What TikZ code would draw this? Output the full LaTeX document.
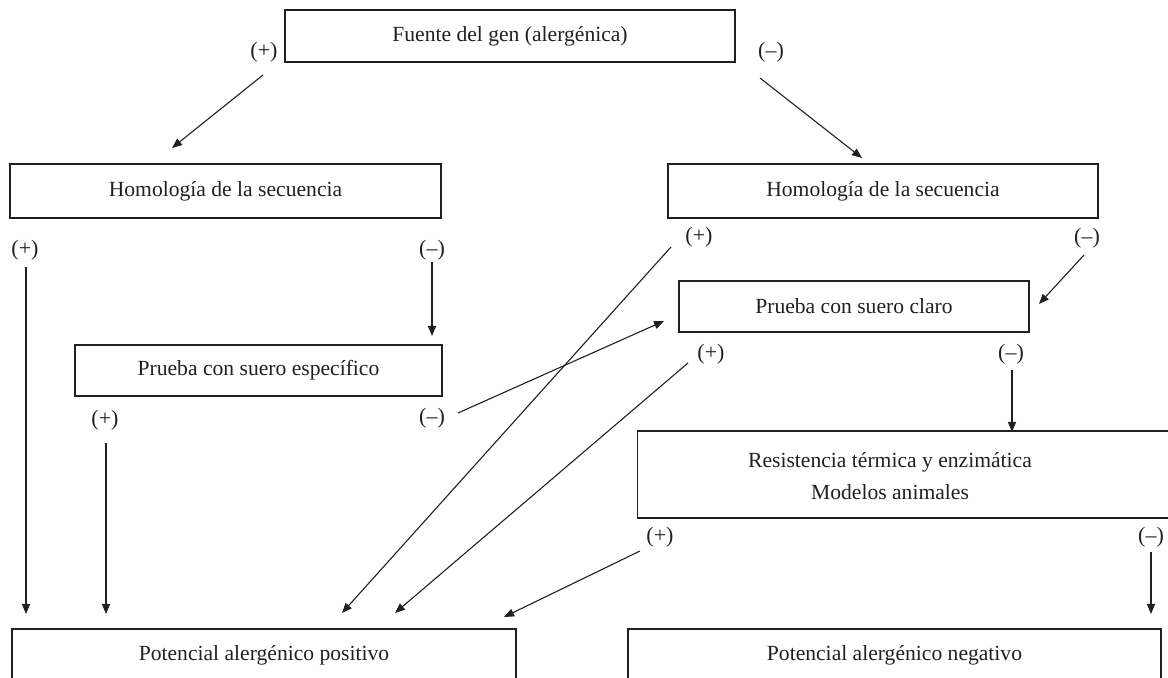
\documentclass[tikz,border=0pt]{standalone}
\usepackage{fontspec}
\setmainfont{Liberation Serif}
\usetikzlibrary{arrows.meta}
\definecolor{ink}{HTML}{231F20}
\begin{document}
\begin{tikzpicture}[x=0.5pt,y=-0.5pt,
  every node/.style={text=ink,font=\fontsize{10.8pt}{13pt}\selectfont},
  box/.style={draw=ink,line width=0.65pt,rectangle,inner sep=0pt},
  sign/.style={inner sep=0pt,font=\fontsize{11pt}{13pt}\selectfont},
  arr/.style={draw=ink,line width=0.55pt,-{Triangle[length=5pt,width=4pt]}}]
\useasboundingbox (0,0) rectangle (1168,678);
\begin{scope}
\clip (0,0) rectangle (1168,678);
% boxes
\node[box,minimum width=225pt,minimum height=26pt] (T) at (510,36) {Fuente del gen (alergénica)};
\node[box,minimum width=215.5pt,minimum height=27pt] (H1) at (225.5,191) {Homología de la secuencia};
\node[box,minimum width=215pt,minimum height=27pt] (H2) at (883,191) {Homología de la secuencia};
\node[box,minimum width=183.5pt,minimum height=25.5pt] (PE) at (258.5,370.5) {Prueba con suero específico};
\node[box,minimum width=175pt,minimum height=25.5pt] (PC) at (854,306.5) {Prueba con suero claro};
\node[box,minimum width=275pt,minimum height=43.5pt] (R) at (912.5,474.5) {};
\node[align=center,font=\fontsize{10.8pt}{16pt}\selectfont] (Rt) at (890,476) {Resistencia térmica y enzimática\\Modelos animales};
\node[box,minimum width=252pt,minimum height=26pt] (PP) at (264,655) {Potencial alergénico positivo};
\node[box,minimum width=266.5pt,minimum height=26pt] (PN) at (894.5,655) {Potencial alergénico negativo};
% outcome signs
\node[sign] (sTp) at (264,52) {(+)};
\node[sign] (sTm) at (771,52) {(--)};
\node[sign] (sH1p) at (25,250) {(+)};
\node[sign] (sH1m) at (432,250) {(--)};
\node[sign] (sPEp) at (105,420) {(+)};
\node[sign] (sPEm) at (432,418) {(--)};
\node[sign] (sH2p) at (699,237) {(+)};
\node[sign] (sH2m) at (1087,238) {(--)};
\node[sign] (sPCp) at (711,354) {(+)};
\node[sign] (sPCm) at (1011,354) {(--)};
\node[sign] (sRp) at (660,537) {(+)};
\node[sign] (sRm) at (1151,537) {(--)};
% arrow ends
\coordinate (aTp1) at (263,75);   \coordinate (aTp2) at (172,148);
\coordinate (aTm1) at (760,78);   \coordinate (aTm2) at (862,158);
\coordinate (aH1p1) at (26,267);  \coordinate (aH1p2) at (26,614);
\coordinate (aH1m1) at (432,262); \coordinate (aH1m2) at (432,336);
\coordinate (aPEp1) at (106,443); \coordinate (aPEp2) at (106,614);
\coordinate (aPEm1) at (458,413); \coordinate (aPEm2) at (664,321);
\coordinate (aH2p1) at (671,247); \coordinate (aH2p2) at (342,613);
\coordinate (aH2m1) at (1084,255);\coordinate (aH2m2) at (1039,304);
\coordinate (aPCp1) at (688,363); \coordinate (aPCp2) at (395,613);
\coordinate (aPCm1) at (1012,370);\coordinate (aPCm2) at (1012,432);
\coordinate (aRp1) at (640,551);  \coordinate (aRp2) at (504,617);
\coordinate (aRm1) at (1151,552); \coordinate (aRm2) at (1151,614);
% connectors
\draw[arr] (aTp1) -- (aTp2);
\draw[arr] (aTm1) -- (aTm2);
\draw[arr] (aH1p1) -- (aH1p2);
\draw[arr] (aH1m1) -- (aH1m2);
\draw[arr] (aPEp1) -- (aPEp2);
\draw[arr] (aPEm1) -- (aPEm2);
\draw[arr] (aH2p1) -- (aH2p2);
\draw[arr] (aH2m1) -- (aH2m2);
\draw[arr] (aPCp1) -- (aPCp2);
\draw[arr] (aPCm1) -- (aPCm2);
\draw[arr] (aRp1) -- (aRp2);
\draw[arr] (aRm1) -- (aRm2);
\end{scope}
\end{tikzpicture}
\end{document}
